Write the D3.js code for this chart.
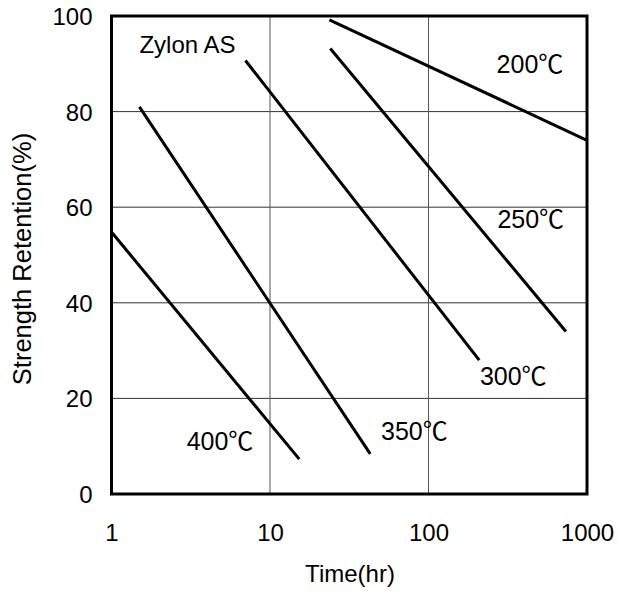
<!DOCTYPE html>
<html>
<head>
<meta charset="utf-8">
<script src="https://cdn.jsdelivr.net/npm/d3@7"></script>
<style>
  html, body { margin: 0; padding: 0; background: #fff; }
  svg text { font-family: "Liberation Sans", Arial, "Noto Sans CJK JP", sans-serif; fill: #000; }
</style>
</head>
<body>
<svg id="chart" width="619" height="591"></svg>
<script>
// ---- data ----
const seriesNames = ["200℃", "250℃", "300℃", "350℃", "400℃"];
const startTime   = [23.7, 24, 7, 1.5, 1];
const startValue  = [99.2, 93.2, 90.7, 81, 54.8];
const endTime     = [1000, 736, 209, 42.9, 15.3];
const endValue    = [74, 34, 28, 8.4, 7.3];
const xTicks = [1, 10, 100, 1000];
const yTicks = [0, 20, 40, 60, 80, 100];
const xTitle = "Time(hr)";
const yTitle = "Strength Retention(%)";
const noteText = "Zylon AS";
// label anchors in data units (time, retention)
const labelTime  = [269, 272, 211, 50.2, 2.98];
const labelValue = [88.1, 55.6, 22.8, 11.3, 9.2];
const noteTime = 1.5, noteValue = 92.2;

// ---- layout ----
const svg = d3.select("#chart");
const pL = 111.5, pR = 587, pT = 16, pB = 494;
const x = d3.scaleLog().domain([1, 1000]).range([pL, pR]);
const y = d3.scaleLinear().domain([0, 100]).range([pB, pT]);
const fs = 24;

// grid
const grid = svg.append("g");
grid.selectAll(".hg").data(yTicks.slice(1, -1)).join("line")
  .attr("x1", pL).attr("x2", pR)
  .attr("y1", d => y(d)).attr("y2", d => y(d))
  .attr("stroke", "#333").attr("stroke-width", 1);
grid.selectAll(".vg").data(xTicks.slice(1, -1)).join("line")
  .attr("x1", d => x(d)).attr("x2", d => x(d))
  .attr("y1", pT).attr("y2", pB)
  .attr("stroke", "#555").attr("stroke-width", 1);

// axes tick labels via d3 axes
const xAxis = d3.axisBottom(x).tickValues(xTicks).tickFormat(d3.format("d")).tickSize(0).tickPadding(0);
const gx = svg.append("g").attr("transform", `translate(0,${pB})`).call(xAxis);
gx.select(".domain").remove();
gx.selectAll("text").attr("font-size", fs).attr("font-family", null)
  .attr("dy", null).attr("y", 47);

const yAxis = d3.axisLeft(y).tickValues(yTicks).tickFormat(d3.format("d")).tickSize(0).tickPadding(0);
const gy = svg.append("g").attr("transform", `translate(${pL},0)`).call(yAxis);
gy.select(".domain").remove();
gy.selectAll("text").attr("font-size", fs).attr("font-family", null)
  .attr("x", -19).attr("dy", "0.35em");

// frame
svg.append("rect").attr("x", pL).attr("y", pT)
  .attr("width", pR - pL).attr("height", pB - pT)
  .attr("fill", "none").attr("stroke", "#000").attr("stroke-width", 3);

// series lines
const lineData = seriesNames.map((n, i) => ({
  name: n,
  pts: [[startTime[i], startValue[i]], [endTime[i], endValue[i]]]
}));
const line = d3.line().x(d => x(d[0])).y(d => y(d[1]));
svg.append("g").selectAll("path").data(lineData).join("path")
  .attr("d", d => line(d.pts))
  .attr("fill", "none").attr("stroke", "#000").attr("stroke-width", 3);

// series labels
svg.append("g").selectAll("text").data(seriesNames).join("text")
  .attr("x", (d, i) => x(labelTime[i]))
  .attr("y", (d, i) => y(labelValue[i]))
  .attr("font-size", 25)
  .text(d => d);

svg.append("text").attr("x", x(noteTime)).attr("y", y(noteValue))
  .attr("font-size", fs).text(noteText);

// axis titles
svg.append("text").attr("x", 350).attr("y", 582)
  .attr("text-anchor", "middle").attr("font-size", fs).text(xTitle);
svg.append("text").attr("transform", "translate(31,259) rotate(-90)")
  .attr("text-anchor", "middle").attr("font-size", 25.5).text(yTitle);
</script>
</body>
</html>
